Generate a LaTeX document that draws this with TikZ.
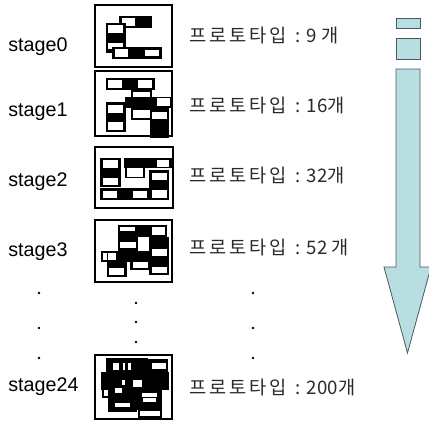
\documentclass[tikz,border=0pt]{standalone}
\usepackage{fontspec}
\setmainfont{Liberation Sans}
\newfontfamily\krsp[LetterSpace=16]{Noto Sans CJK KR}
\newfontfamily\kr{Noto Sans CJK KR}
\definecolor{arrowfill}{HTML}{B9DEE1}
\definecolor{arrowline}{HTML}{4A5A5C}
\definecolor{krtext}{HTML}{2A2A2A}
\newcommand{\blk}[4]{\fill[black] (#1,#2) rectangle (#3,#4);}
\newcommand{\wht}[4]{\fill[white] (#1,#2) rectangle (#3,#4);}
\newcommand{\proto}[1]{{\krsp 프로토타입}{\kr\hspace{6pt}:\hspace{5pt}#1}}
\begin{document}
\begin{tikzpicture}[x=0.75pt,y=-0.75pt,
  stagelbl/.style={anchor=base west,inner sep=0pt,font=\fontsize{14.8}{16}\selectfont},
  protolbl/.style={anchor=base west,inner sep=0pt,text=krtext,font=\fontsize{14}{16}\selectfont},
  frame/.style={draw=black,line width=1.5pt,fill=white},
  arrowpart/.style={draw=arrowline,line width=0.6pt,fill=arrowfill},
  dotmark/.style={circle,fill=black,inner sep=0pt,minimum size=2.2pt}]
\useasboundingbox (0,0) rectangle (429,421);
\fill[white] (0,0) rectangle (429,421);

% labels
\node[stagelbl] (s0) at (8,51.7) {stage0};
\node[stagelbl] (s1) at (8,116.7) {stage1};
\node[stagelbl] (s2) at (8,186.7) {stage2};
\node[stagelbl] (s3) at (8,256.7) {stage3};
\node[stagelbl] (s24) at (8,391.7) {stage24};

\node[protolbl] (p0) at (189,42) {\proto{9 개}};
\node[protolbl] (p1) at (189,112) {\proto{16개}};
\node[protolbl] (p2) at (189,182) {\proto{32개}};
\node[protolbl] (p3) at (189,254) {\proto{52 개}};
\node[protolbl] (p24) at (189,394) {\proto{200개}};

% frames
\draw[frame] (95,5) rectangle (171.5,66.5);
\draw[frame] (95,71) rectangle (171.5,136);
\draw[frame] (95,147) rectangle (172.5,207.5);
\draw[frame] (94.5,219.5) rectangle (171.5,281.5);
\draw[frame] (95,355) rectangle (171.5,419);

% box 0
\blk{119.3}{16}{151.7}{28.3} \wht{121.7}{18.3}{135}{26.2}
\blk{106}{22.7}{126}{53.3} \wht{108.3}{25}{123.3}{33.3} \wht{108.3}{42.7}{123.3}{49.3}
\blk{112.3}{46.7}{161.7}{59.3} \wht{115}{49.3}{128.3}{56.7} \wht{145}{50}{159.3}{56.3}
\wht{121.7}{24.5}{123.3}{26.2}

% box 1
\blk{106}{77.7}{155}{90} \wht{108.3}{80}{121.7}{87.7} \wht{138.3}{80}{151.7}{87.7}
\blk{131}{90}{151.7}{120} \wht{133.3}{91.7}{150}{97.7} \wht{133.3}{110}{150}{118.3}
\blk{125}{96.7}{171.7}{108.3} \wht{156.7}{98.3}{170}{105.7}
\blk{106}{101.7}{126}{131.7} \wht{108.3}{105}{123.3}{113.3} \wht{108.3}{121.7}{123.3}{130}
\blk{150}{108.3}{169.3}{137.7} \wht{151.7}{111.7}{167.3}{119}

% box 2
\blk{100}{157.7}{120.7}{186.7} \wht{102.7}{160}{118.3}{168.3} \wht{102.7}{177.7}{118.3}{185}
\blk{124.3}{157.7}{171.7}{168.3} \wht{157.3}{160}{169.3}{166.7}
\blk{125}{166.7}{145}{178.3} \wht{126.7}{168.3}{143.3}{176.7}
\blk{149.3}{170}{169.3}{200} \wht{151.7}{173.3}{167.3}{180} \wht{151.7}{190}{167.3}{198.3}
\blk{100}{188.3}{150}{200} \wht{102.7}{191}{116.7}{197.7} \wht{133.3}{191}{146.7}{197.7}

% box 3
\blk{118.3}{225}{166.7}{236.7} \wht{120}{227.3}{135}{230.7} \wht{151.7}{227.3}{165}{235}
\blk{118.3}{233.3}{138.3}{251.7} \wht{120}{241.7}{136}{248.3}
\blk{149.3}{236.7}{169.3}{275} \wht{151.7}{249.3}{167.3}{256} \wht{151.7}{266.7}{167.3}{273.3}
\blk{100.7}{250.7}{151.7}{261.7} \wht{102.7}{252.7}{106.7}{260} \wht{108.3}{252.7}{116}{260}
\blk{107.3}{260}{126.7}{276.7} \wht{109.3}{268.3}{124.3}{275}
\blk{130}{259.3}{150}{270} \wht{132.7}{261.7}{148.3}{268.3}

% box 24
\blk{106}{358.3}{148.3}{373.3}
\blk{148.3}{359.3}{168.3}{371.7} \wht{151.7}{362.7}{166}{369.3}
\blk{100.7}{371.7}{169.3}{390}
\blk{108.3}{388.3}{136.7}{411.7}
\blk{135}{390}{161.7}{410}
\blk{138}{408}{162}{418.7} \wht{140}{410.7}{160}{416.3}
\wht{113.3}{363.3}{119.3}{370}
\wht{122.7}{363.3}{125}{370}
\wht{128.3}{363.3}{130.7}{370}
\wht{103.3}{391.7}{108.3}{396.7}
\wht{121.7}{380}{125}{385}
\wht{133.3}{380}{141.7}{386.7}
\wht{115}{388.3}{121.7}{393.3}
\wht{141.7}{393.3}{156.7}{396.7}
\wht{143.3}{398.3}{156}{401.7}
\wht{115}{403.3}{130}{407.3}
\draw[black,line width=0.8pt] (103,390) -- (103,397) -- (108.3,397);

% dots
\node[dotmark] (d1) at (39,293) {};
\node[dotmark] (d2) at (39,328) {};
\node[dotmark] (d3) at (39,358) {};
\node[dotmark] (d4) at (136,303) {};
\node[dotmark] (d5) at (136,322) {};
\node[dotmark] (d6) at (136,342) {};
\node[dotmark] (d7) at (253,293) {};
\node[dotmark] (d8) at (253,328) {};
\node[dotmark] (d9) at (253,358) {};

% arrow
\draw[arrowpart] (396,18) rectangle (420,28);
\draw[arrowpart] (396,38.5) rectangle (420,59);
\draw[arrowpart] (396,69) -- (420,69) -- (420,267) -- (431,267) -- (407.5,353) -- (384,267) -- (396,267) -- cycle;
\end{tikzpicture}
\end{document}
